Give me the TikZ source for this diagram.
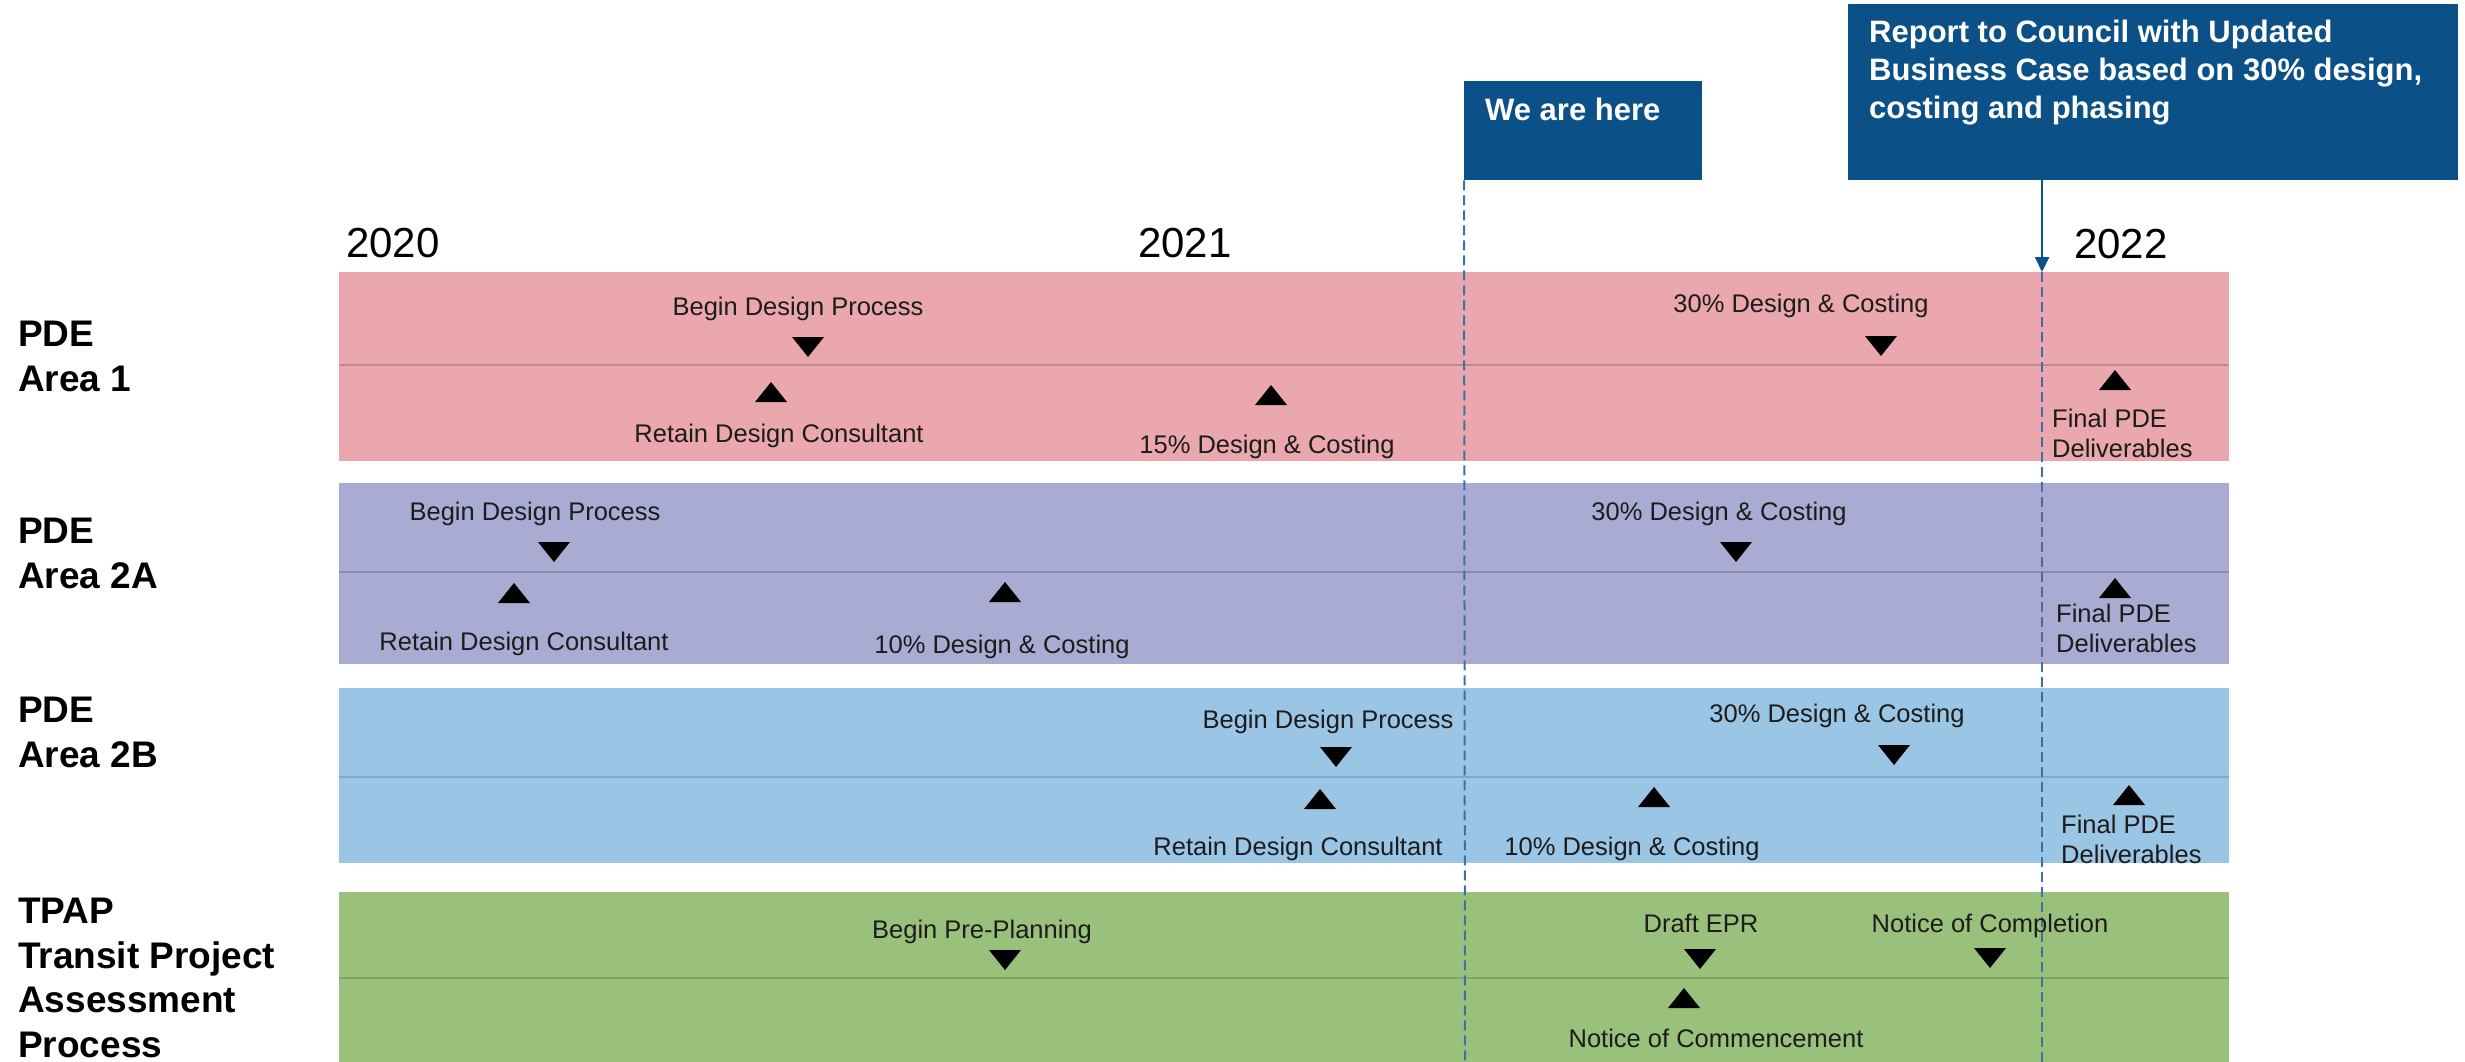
\documentclass[tikz,border=0pt]{standalone}
\usepackage{fontspec}
\setmainfont{Liberation Sans}
\usetikzlibrary{arrows.meta}

\definecolor{boxblue}{RGB}{11,80,134}
\definecolor{lineblue}{RGB}{62,112,166}
\definecolor{bandpink}{RGB}{234,167,173}
\definecolor{bandpurple}{RGB}{170,171,210}
\definecolor{bandblue}{RGB}{155,197,228}
\definecolor{bandgreen}{RGB}{154,193,123}
\definecolor{ink}{RGB}{28,28,28}

\begin{document}
\begin{tikzpicture}[x=1pt,y=-1pt,
  band/.style={draw=none, inner sep=0, anchor=north west, minimum width=1890},
  divider/.style={line width=1.5},
  ms/.style={font=\fontsize{25.5}{30}\selectfont, text=ink, inner sep=0, anchor=base},
  msl/.style={ms, anchor=base west, align=left},
  yr/.style={font=\fontsize{42}{50}\selectfont, inner sep=0, anchor=base west},
  rowlab/.style={font=\bfseries\fontsize{37}{44.5}\selectfont, inner sep=0, anchor=base west, align=left},
  callout/.style={fill=boxblue, draw=none, inner sep=0, anchor=north west},
  callouttext/.style={font=\bfseries\fontsize{31}{38}\selectfont, text=white, inner sep=0, anchor=base west, align=left},
  nowline/.style={lineblue, line width=2, dash pattern=on 10pt off 5pt},
  dn/.pic={\fill[black] (-16,-10) -- (16,-10) -- (0,10) -- cycle;},
  up/.pic={\fill[black] (-16,10) -- (16,10) -- (0,-10) -- cycle;},
]
\useasboundingbox (0,0) rectangle (2465,1062);

% swim-lane bands
\node[band, fill=bandpink,   minimum height=189] (laneA)  at (339,272) {};
\node[band, fill=bandpurple, minimum height=181] (laneB)  at (339,483) {};
\node[band, fill=bandblue,   minimum height=175] (laneC)  at (339,688) {};
\node[band, fill=bandgreen,  minimum height=175] (laneD)  at (339,892) {};
\draw[divider, bandpink!82!black]   (laneA.west |- 0,365) -- (laneA.east |- 0,365);
\draw[divider, bandpurple!82!black] (laneB.west |- 0,572) -- (laneB.east |- 0,572);
\draw[divider, bandblue!85!black]   (laneC.west |- 0,777) -- (laneC.east |- 0,777);
\draw[divider, bandgreen!85!black]  (laneD.west |- 0,978) -- (laneD.east |- 0,978);

% year marks
\node[yr] (y20) at (346,257) {2020};
\node[yr] (y21) at (1138,257) {2021};
\node[yr] (y22) at (2074,258) {2022};

% row titles (anchored on the baseline of the last line)
\node[rowlab] (rowA) at (18,391) {PDE\\Area 1};
\node[rowlab] (rowB) at (18,588) {PDE\\Area 2A};
\node[rowlab] (rowC) at (18,767) {PDE\\Area 2B};
\node[rowlab] (rowD) at (18,1057) {TPAP\\Transit Project\\Assessment\\Process};

% call-out boxes
\node[callout, minimum width=238, minimum height=99]  (here) at (1464,81) {};
\node[callouttext] (heretext) at (1485,121) {We are here};
\node[callout, minimum width=610, minimum height=176] (rep) at (1848,4) {};
\node[callouttext] (reptext) at (1869,119) {Report to Council with Updated\\Business Case based on 30\% design,\\costing and phasing};

% today / report markers
\coordinate (nowfoot) at (1465,1062);
\coordinate (reptip) at (2042,272);
\coordinate (repfoot) at (2042,1062);
\draw[nowline] (here.south west) -- (nowfoot);
\draw[nowline] (reptip) -- (repfoot);
\draw[boxblue, line width=2.5, -{Triangle[width=14,length=15]}] (rep.south -| reptip) -- (reptip);

% PDE Area 1
\node[ms] (a1) at (798,315) {Begin Design Process};
\pic at (808,347) {dn};
\pic at (771,392) {up};
\node[ms] (a2) at (779,442) {Retain Design Consultant};
\pic at (1271,395) {up};
\node[ms] (a3) at (1267,453) {15\% Design \& Costing};
\node[ms] (a4) at (1801,312) {30\% Design \& Costing};
\pic at (1881,346) {dn};
\pic at (2115,380) {up};
\node[msl] (a5) at (2052,457) {Final PDE\\Deliverables};

% PDE Area 2A
\node[ms] (b1) at (535,520) {Begin Design Process};
\pic at (554,552) {dn};
\pic at (514,593) {up};
\node[ms] (b2) at (524,650) {Retain Design Consultant};
\pic at (1005,592) {up};
\node[ms] (b3) at (1002,653) {10\% Design \& Costing};
\node[ms] (b4) at (1719,520) {30\% Design \& Costing};
\pic at (1736,552) {dn};
\pic at (2115,588) {up};
\node[msl] (b5) at (2056,652) {Final PDE\\Deliverables};

% PDE Area 2B
\node[ms] (c1) at (1328,728) {Begin Design Process};
\pic at (1336,757) {dn};
\pic at (1320,799) {up};
\node[ms] (c2) at (1298,855) {Retain Design Consultant};
\pic at (1654,797) {up};
\node[ms] (c3) at (1632,855) {10\% Design \& Costing};
\node[ms] (c4) at (1837,722) {30\% Design \& Costing};
\pic at (1894,755) {dn};
\pic at (2129,795) {up};
\node[msl] (c5) at (2061,863) {Final PDE\\Deliverables};

% TPAP
\node[ms] (d1) at (982,938) {Begin Pre-Planning};
\pic at (1005,960) {dn};
\node[ms] (d2) at (1701,932) {Draft EPR};
\pic at (1700,959) {dn};
\node[ms] (d3) at (1990,932) {Notice of Completion};
\pic at (1990,958) {dn};
\pic at (1684,998) {up};
\node[ms] (d4) at (1716,1047) {Notice of Commencement};
\end{tikzpicture}
\end{document}
